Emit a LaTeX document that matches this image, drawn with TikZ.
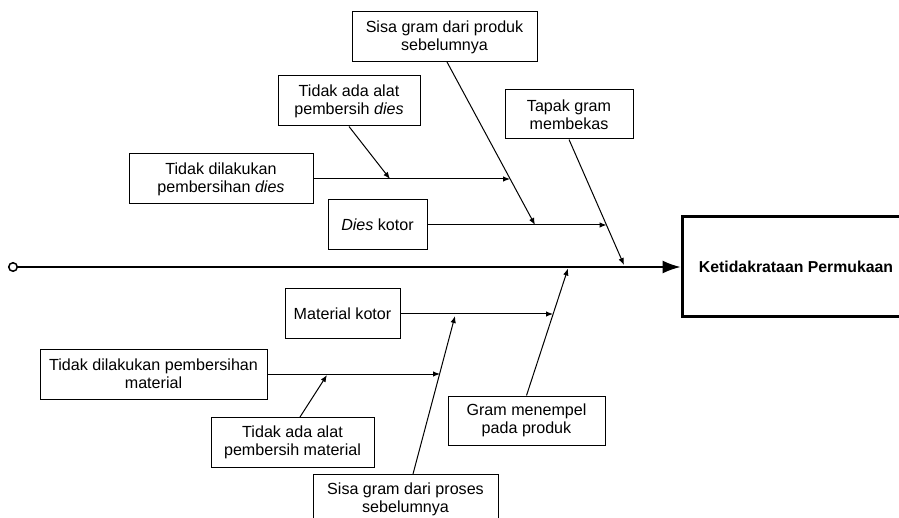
\documentclass[tikz,border=0pt]{standalone}
\usepackage{fontspec}
\setmainfont{Liberation Sans}
\usetikzlibrary{arrows.meta}
\begin{document}
\begin{tikzpicture}[x=1pt,y=-1pt,
  cause/.style={draw, line width=1pt, align=center, inner sep=0pt,
    font=\fontsize{16.1}{17.8}\selectfont},
  effectbox/.style={draw, line width=3pt, align=center, inner sep=0pt,
    font=\fontsize{15.8}{17.8}\selectfont\bfseries},
  link/.style={line width=1pt, -{Latex[length=7pt,width=5.5pt]}},
  spine/.style={line width=1.6pt, -{Latex[length=18pt,width=13pt]}}]
\useasboundingbox (0,0) rectangle (899,518);
\clip (0,0) rectangle (899,518);

% effect and head of the spine
\node[effectbox, minimum width=228pt, minimum height=100pt] (effect) at (796,267) {Ketidakrataan Permukaan};
\node[circle, draw, line width=1.5pt, fill=white, minimum size=8.5pt, inner sep=0pt] (start) at (13,267) {};

% upper causes
\node[cause, minimum width=185pt, minimum height=50pt] (sisaP) at (444.5,37) {Sisa gram dari produk\\sebelumnya};
\node[cause, minimum width=142pt, minimum height=50pt] (alatD) at (349,101) {Tidak ada alat\\pembersih \textit{dies}};
\node[cause, minimum width=184pt, minimum height=50pt] (bersihD) at (221,179) {Tidak dilakukan\\pembersihan \textit{dies}};
\node[cause, minimum width=99pt, minimum height=50pt] (diesK) at (377.5,225) {\textit{Dies} kotor};
\node[cause, minimum width=128pt, minimum height=49pt] (tapak) at (569,114.5) {Tapak gram\\membekas};

% lower causes
\node[cause, minimum width=115pt, minimum height=50pt] (matK) at (342.5,314) {Material kotor};
\node[cause, minimum width=227pt, minimum height=50pt] (bersihM) at (153.5,374) {Tidak dilakukan pembersihan\\material};
\node[cause, minimum width=163pt, minimum height=50pt] (alatM) at (292.5,442) {Tidak ada alat\\pembersih material};
\node[cause, minimum width=157pt, minimum height=49pt] (gram) at (526.5,420.5) {Gram menempel\\pada produk};
\node[cause, minimum width=185pt, minimum height=50pt] (sisaR) at (405.5,499) {Sisa gram dari proses\\sebelumnya};

% junction points on the branches
\coordinate (jBersihD) at (510,179);
\coordinate (jAlatD) at (390,179);
\coordinate (jSisaP) at (535,225);
\coordinate (jDies) at (606.5,225);
\coordinate (jTapak) at (624,265);
\coordinate (jGram) at (568,268.5);
\coordinate (jMat) at (553,314);
\coordinate (jSisaR) at (455,316);
\coordinate (jBersihM) at (440,374);
\coordinate (jAlatM) at (327,375);
\coordinate (oSisaP) at (447,62);
\coordinate (oSisaR) at (413,474);
\coordinate (oAlatM) at (300,417);

% spine
\draw[spine] (start) -- (effect.west);

% upper branches
\draw[link] (bersihD.east) -- (jBersihD);
\draw[link] (alatD.south) -- (jAlatD);
\draw[link] (oSisaP) -- (jSisaP);
\draw[link] (diesK.east) -- (jDies);
\draw[link] (tapak.south) -- (jTapak);

% lower branches
\draw[link] (gram.north) -- (jGram);
\draw[link] (matK.east) -- (jMat);
\draw[link] (oSisaR) -- (jSisaR);
\draw[link] (bersihM.east) -- (jBersihM);
\draw[link] (oAlatM) -- (jAlatM);
\end{tikzpicture}
\end{document}
